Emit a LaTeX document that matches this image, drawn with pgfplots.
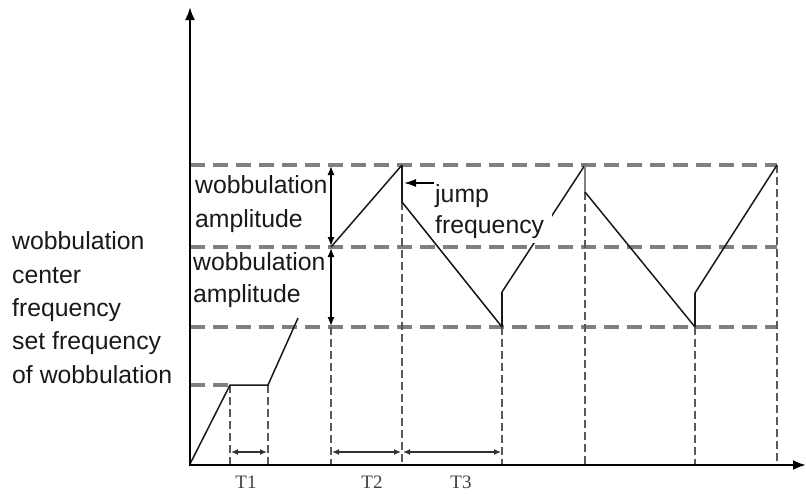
\documentclass[border=0pt]{standalone}
\usepackage{pgfplots}
\pgfplotsset{compat=1.18}
\usepackage{fontspec}
\setmainfont{Liberation Sans}
\newfontfamily\seriffont{Liberation Serif}
\usetikzlibrary{arrows.meta}
\begin{document}
\begin{tikzpicture}
\begin{axis}[width=806pt,height=493pt,scale only axis,
  xmin=0,xmax=806,ymin=0,ymax=493,y dir=reverse,hide axis,clip=false]
\coordinate (ll) at (rel axis cs:0,0);
\coordinate (ur) at (rel axis cs:1,1);
% horizontal gray dashed levels
\addplot[black!50,line width=3.5pt,dash pattern=on 15pt off 8pt] coordinates {(190,165) (777,165)};
\addplot[black!50,line width=3.5pt,dash pattern=on 15pt off 8pt] coordinates {(190,247) (777,247)};
\addplot[black!50,line width=3.5pt,dash pattern=on 15pt off 8pt] coordinates {(190,327) (777,327)};
\addplot[black!50,line width=3.5pt,dash pattern=on 15pt off 8pt] coordinates {(190,385) (230,385)};
% vertical dashed lines
\addplot[black!65,line width=2.5pt,dash pattern=on 8pt off 4pt] coordinates {(230,385) (230,464)};
\addplot[black!65,line width=2.5pt,dash pattern=on 8pt off 4pt] coordinates {(268,385) (268,464)};
\addplot[black!65,line width=2.5pt,dash pattern=on 8pt off 4pt] coordinates {(331,327) (331,464)};
\addplot[black!65,line width=2.5pt,dash pattern=on 8pt off 4pt] coordinates {(402,202) (402,464)};
\addplot[black!65,line width=2.5pt,dash pattern=on 8pt off 4pt] coordinates {(502,327) (502,464)};
\addplot[black!65,line width=2.5pt,dash pattern=on 8pt off 4pt] coordinates {(585,192) (585,464)};
\addplot[black!65,line width=2.5pt,dash pattern=on 8pt off 4pt] coordinates {(695,327) (695,464)};
\addplot[black!65,line width=2.5pt,dash pattern=on 8pt off 4pt] coordinates {(777,165) (777,464)};
% frequency curve
\addplot[black!90,line width=1.5pt] coordinates {(190,464) (230,385) (268,385) (298,318)};
\addplot[black!90,line width=1.5pt] coordinates {(331,247) (402,165)};
\addplot[black!90,line width=2.2pt] coordinates {(402,165) (402,202)};
\addplot[black!90,line width=1.5pt] coordinates {(402,202) (502,327)};
\addplot[black!90,line width=2.2pt] coordinates {(502,327) (502,292)};
\addplot[black!90,line width=1.5pt] coordinates {(502,292) (585,165)};
\addplot[black!50,line width=2.2pt] coordinates {(585,165) (585,192)};
\addplot[black!90,line width=1.5pt] coordinates {(585,192) (695,327)};
\addplot[black!90,line width=2.2pt] coordinates {(695,327) (695,293)};
\addplot[black!90,line width=1.5pt] coordinates {(695,293) (777,165)};
% white box behind jump frequency label
\fill[white] (axis cs:450,176) rectangle (axis cs:552,243);
% axes
\draw[black,line width=2.3pt,-{Latex[length=13pt,width=10pt]}] (axis cs:190,466) -- (axis cs:190,7);
\draw[black,line width=2.3pt,-{Latex[length=13pt,width=10pt]}] (axis cs:189,465) -- (axis cs:806,465);
% amplitude double arrows
\draw[black,line width=1.3pt,{Latex[length=9pt,width=7pt]}-{Latex[length=9pt,width=7pt]}] (axis cs:331,166) -- (axis cs:331,246);
\draw[black,line width=1.3pt,{Latex[length=9pt,width=7pt]}-{Latex[length=9pt,width=7pt]}] (axis cs:331,248) -- (axis cs:331,326);
% time double arrows
\draw[black!80,line width=1.3pt,{Latex[length=7pt,width=6pt]}-{Latex[length=7pt,width=6pt]}] (axis cs:231,452) -- (axis cs:267,452);
\draw[black!80,line width=1.3pt,{Latex[length=7pt,width=6pt]}-{Latex[length=7pt,width=6pt]}] (axis cs:332,452) -- (axis cs:401,452);
\draw[black!80,line width=1.3pt,{Latex[length=7pt,width=6pt]}-{Latex[length=7pt,width=6pt]}] (axis cs:403,452) -- (axis cs:501,452);
% jump frequency arrow
\draw[black,line width=1.6pt,-{Latex[length=12pt,width=8pt]}] (axis cs:434,183) -- (axis cs:404,183);
% texts
\tikzset{lbl/.style={anchor=base west,inner sep=0pt,text=black!90,font=\fontsize{24.8}{33}\selectfont}}
\node[lbl] at (axis cs:12,249) {wobbulation};
\node[lbl] at (axis cs:12,283) {center};
\node[lbl] at (axis cs:12,316) {frequency};
\node[lbl] at (axis cs:12,349) {set frequency};
\node[lbl] at (axis cs:12,383) {of wobbulation};
\node[lbl] at (axis cs:195,193) {wobbulation};
\node[lbl] at (axis cs:195,227) {amplitude};
\node[lbl] at (axis cs:193,270) {wobbulation};
\node[lbl] at (axis cs:193,302) {amplitude};
\node[lbl] at (axis cs:435,202) {jump};
\node[lbl] at (axis cs:435,233) {frequency};
\tikzset{tl/.style={anchor=base,inner sep=0pt,text=black!75,font=\seriffont\fontsize{19}{20}\selectfont}}
\node[tl] at (axis cs:246,488) {T1};
\node[tl] at (axis cs:372,488) {T2};
\node[tl] at (axis cs:461,488) {T3};
\end{axis}
\pgfresetboundingbox
\path[use as bounding box] (ll) rectangle (ur);
\end{tikzpicture}
\end{document}
